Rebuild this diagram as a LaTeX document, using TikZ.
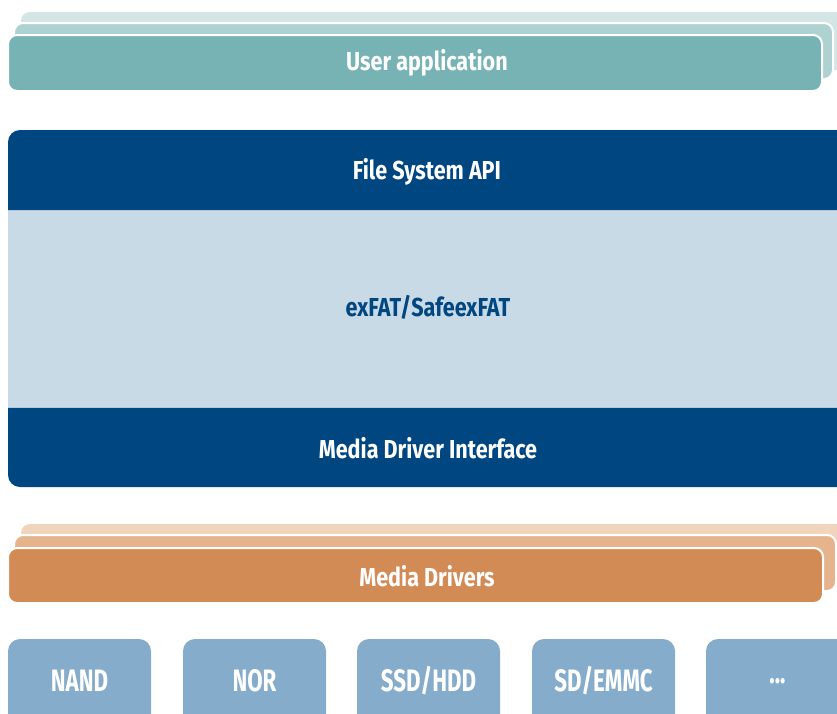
\documentclass[tikz,border=0pt]{standalone}
\usepackage{fontspec}
\setmainfont{Fira Sans}[UprightFont=* Bold, FakeStretch=0.83]
\newfontfamily\devfont{Fira Sans}[UprightFont=* Bold, FakeStretch=0.72]
\definecolor{tealA}{HTML}{77B3B5}
\definecolor{tealB}{HTML}{AED1D2}
\definecolor{tealC}{HTML}{D3E5E5}
\definecolor{dblue}{HTML}{004680}
\definecolor{lblue}{HTML}{C9DAE7}
\definecolor{oraA}{HTML}{D38B55}
\definecolor{oraB}{HTML}{E5B48D}
\definecolor{oraC}{HTML}{F0D5BC}
\definecolor{devc}{HTML}{85ACCB}
\newcommand\mydots{...}
\tikzset{
  layer/.style={draw=white, line width=2pt, rounded corners=9pt},
  lbl/.style={text=white, font=\fontsize{26}{30}\selectfont, inner sep=0pt},
  devlbl/.style={text=white, font=\devfont\fontsize{31}{34}\selectfont, inner sep=0pt},
}
\begin{document}
\begin{tikzpicture}[x=1pt,y=-1pt]
\useasboundingbox (0,0) rectangle (837,713);
\clip (0,0) rectangle (837,713);
% user application stack
\fill[tealC, rounded corners=9pt] (21,12) rectangle (860,70);
\filldraw[layer, fill=tealB] (14,23) rectangle (833,79);
\filldraw[layer, fill=tealA] (8,35) rectangle (822,91);
\node[lbl] (ua) at (427,63) {User application};
% file system block
\fill[dblue, rounded corners=12pt] (8,130) rectangle (860,487);
\fill[lblue] (8,210) rectangle (837,407);
\draw[white!70!dblue, line width=0.6pt] (8,210) -- (837,210) (8,407) -- (837,407);
\node[lbl] (api) at (427,172) {File System API};
\node[lbl, text=dblue] (fat) at (428,307) {exFAT/SafeexFAT};
\node[lbl] (mdi) at (428,448) {Media Driver Interface};
% media drivers stack
\fill[oraC, rounded corners=9pt] (21,524) rectangle (860,580);
\filldraw[layer, fill=oraB] (14,535) rectangle (836,591);
\filldraw[layer, fill=oraA] (8,548) rectangle (823,603);
\node[lbl] (md) at (427,576) {Media Drivers};
% devices
\foreach \x/\t/\n in {8/NAND/nand, 183/NOR/nor, 357/SSD\slash HDD/ssd, 532/SD\slash EMMC/sd, 706/\mydots/dots}{
  \fill[devc, rounded corners=12pt] (\x,639) rectangle ++(143,100);
  \node[devlbl] (\n) at ([xshift=71.5pt]\x,681) {\t};
}
\end{tikzpicture}
\end{document}
